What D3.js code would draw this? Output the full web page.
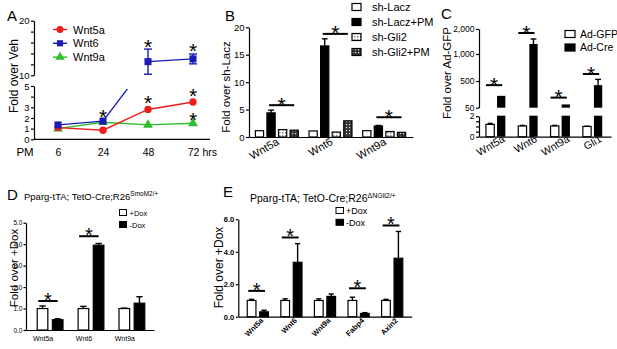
<!DOCTYPE html>
<html>
<meta charset="utf-8" />
<head>
<script src="https://d3js.org/d3.v7.min.js"></script>
<style>
  body { margin: 0; background: #fff; }
  svg text { font-family: "Liberation Sans", Arial, sans-serif; fill: #000; }
</style>
</head>
<body>
<svg id="fig" width="617" height="349"></svg>
<script>
// ---- panel A: time course after PM
const aTimes = ["6", "24", "48", "72"];
const aSeries = ["Wnt5a", "Wnt6", "Wnt9a"];
const aWnt5a = [1.1, 0.85, 2.8, 3.5];
const aWnt6 = [1.35, 1.7, 12.5, 13.0];
const aWnt6Err = [0, 0, 2.3, 0.9];
const aWnt9a = [1.0, 1.6, 1.35, 1.5];
const aStarTimes = ["24", "48", "72", "48", "72", "72"];
const aStarLevels = [2.6, 16.3, 15.5, 3.9, 4.55, 2.3];

// ---- panel B: shRNA
const bGenes = ["Wnt5a", "Wnt6", "Wnt9a"];
const bSeries = ["sh-Lacz", "sh-Lacz+PM", "sh-Gli2", "sh-Gli2+PM"];
const bLacz = [1.15, 1.1, 1.15];
const bLaczPM = [4.4, 16.6, 2.0];
const bLaczPMErr = [0.5, 1.3, 0.1];
const bGli2 = [1.35, 0.9, 1.0];
const bGli2PM = [1.25, 2.95, 0.85];
const bSigLevels = [5.8, 18.8, 3.6];

// ---- panel C: adenovirus
const cGenes = ["Wnt5a", "Wnt6", "Wnt9a", "Gli1"];
const cSeries = ["Ad-GFP", "Ad-Cre"];
const cGFP = [1.2, 1.05, 1.05, 1.0];
const cGFPErr = [0.1, 0.05, 0.05, 0.03];
const cCre = [250, 1400, 105, 430];
const cCreErr = [0, 200, 0, 100];
const cSigLevels = [430, 1840, 220, 630];

// ---- panel D: SmoM2
const dGenes = ["Wnt5a", "Wnt6", "Wnt9a"];
const dSeries = ["+Dox", "-Dox"];
const dPlus = [1.0, 1.0, 1.0];
const dPlusErr = [0.12, 0.1, 0.02];
const dMinus = [0.48, 3.95, 1.25];
const dMinusErr = [0.04, 0.08, 0.3];
const dSigGenes = ["Wnt5a", "Wnt6"];
const dSigLevels = [1.35, 4.37];

// ---- panel E: dNGli2
const eGenes = ["Wnt5a", "Wnt6", "Wnt9a", "Fabp4", "Axin2"];
const eSeries = ["+Dox", "-Dox"];
const ePlus = [1.0, 1.0, 1.0, 1.0, 1.0];
const ePlusErr = [0.07, 0.1, 0.1, 0.2, 0.07];
const eMinus = [0.3, 3.35, 1.25, 0.2, 3.6];
const eMinusErr = [0.1, 1.15, 0.15, 0.05, 1.65];
const eSigGenes = ["Wnt5a", "Wnt6", "Fabp4", "Axin2"];
const eSigLevels = [1.59, 4.88, 1.75, 5.62];

const svg = d3.select("#fig");
const defs = svg.append("defs");
const narrow = "'Liberation Sans Narrow', 'DejaVu Sans Condensed', 'Liberation Sans', sans-serif";

// fill patterns for the sh-Gli2 bars
const p1 = defs.append("pattern").attr("id", "dotLight").attr("width", 3).attr("height", 3)
  .attr("patternUnits", "userSpaceOnUse");
p1.append("rect").attr("width", 3).attr("height", 3).attr("fill", "#fff");
p1.append("rect").attr("width", 1.5).attr("height", 1.5).attr("fill", "#888");
const p2 = defs.append("pattern").attr("id", "dotDark").attr("width", 3).attr("height", 3)
  .attr("patternUnits", "userSpaceOnUse");
p2.append("rect").attr("width", 3).attr("height", 3).attr("fill", "#333");
p2.append("rect").attr("x", 1).attr("y", 1).attr("width", 1.2).attr("height", 1.2).attr("fill", "#ddd");

function styleAxis(g, fs, bold) {
  g.attr("font-family", "Liberation Sans, Arial, sans-serif");
  g.selectAll("path, line").attr("stroke", "#000").attr("stroke-width", 1.2);
  g.selectAll("text").attr("font-size", fs).attr("font-weight", bold ? "bold" : null);
}

function star(g, x, cy, fs) {
  g.append("text").attr("x", x).attr("y", cy + fs * 0.6)
    .attr("text-anchor", "middle").attr("font-size", fs).text("*");
}

function label(txt, x, y, fs, opts) {
  const t = svg.append("text").attr("x", x).attr("y", y).attr("font-size", fs).text(txt);
  if (opts && opts.anchor) t.attr("text-anchor", opts.anchor);
  if (opts && opts.rotate) t.attr("transform", `rotate(${opts.rotate},${x},${y})`);
  if (opts && opts.bold) t.attr("font-weight", "bold");
  return t;
}

function yLabel(txt, x, cy, fs) {
  label(txt, x, cy, fs, { anchor: "middle", rotate: -90 });
}

function barSeries(g, genes, x, xi, key, y, vals, errs, fill, capFrac) {
  g.selectAll(null).data(genes).join("rect")
    .attr("x", d => x(d) + xi(key))
    .attr("y", (d, i) => y(vals[i]))
    .attr("width", xi.bandwidth())
    .attr("height", (d, i) => y(0) - y(vals[i]))
    .attr("fill", fill).attr("stroke", "#000").attr("stroke-width", 1.2);
  if (errs) errBars(g, genes, x, xi, key, y, vals, errs, capFrac);
}

function errBars(g, genes, x, xi, key, y, vals, errs, capFrac) {
  const w = xi.bandwidth() * (capFrac || 0.6);
  genes.forEach((d, i) => {
    if (!errs[i]) return;
    const cx = x(d) + xi(key) + xi.bandwidth() / 2;
    g.append("line").attr("x1", cx).attr("x2", cx)
      .attr("y1", y(vals[i])).attr("y2", y(vals[i] + errs[i]))
      .attr("stroke", "#000").attr("stroke-width", 1.4);
    g.append("line").attr("x1", cx - w / 2).attr("x2", cx + w / 2)
      .attr("y1", y(vals[i] + errs[i])).attr("y2", y(vals[i] + errs[i]))
      .attr("stroke", "#000").attr("stroke-width", 1.4);
  });
}

function sigBar(g, x1, x2, yy, fs) {
  g.append("line").attr("x1", x1).attr("x2", x2).attr("y1", yy).attr("y2", yy)
    .attr("stroke", "#000").attr("stroke-width", 2);
  star(g, (x1 + x2) / 2, yy - 6, fs);
}

// ================= Panel A =================
const gA = svg.append("g");
const aX = d3.scalePoint().domain(aTimes).range([58, 193]);
const aLow = d3.scaleLinear().domain([0, 5]).range([139.3, 86]);
const aHigh = d3.scaleLinear().domain([10, 20]).range([75.3, 20.7]);
const aY = v => (v <= 5 ? aLow(v) : aHigh(v));

gA.append("g").attr("transform", "translate(34,0)")
  .call(d3.axisLeft(aLow).tickValues([0, 1, 2, 3, 4, 5]).tickSize(3).tickPadding(1.5).tickSizeOuter(0)
    .tickFormat(d => (d === 4 ? "" : d)))
  .call(g => styleAxis(g, 9.5));
gA.append("g").attr("transform", "translate(34,0)")
  .call(d3.axisLeft(aHigh).tickValues([10, 12, 14, 16, 18, 20]).tickSize(3).tickPadding(1.5).tickSizeOuter(0)
    .tickFormat(d => (d === 10 || d === 20 ? d : "")))
  .call(g => styleAxis(g, 9.5));
gA.append("g").attr("transform", `translate(0,${aLow(0)})`)
  .call(d3.axisBottom(aX).tickSize(0).tickPadding(9))
  .call(g => { styleAxis(g, 10.5); g.select(".domain").remove(); });
gA.append("line").attr("x1", 34).attr("x2", 210).attr("y1", aLow(0)).attr("y2", aLow(0))
  .attr("stroke", "#000").attr("stroke-width", 1.2);
label("PM", 25, aLow(0) + 16.5, 11.5, { anchor: "middle" });
label("hrs", aX("72") + 9.5, aLow(0) + 16.5, 10.5);
yLabel("Fold over Veh", 17.5, 76, 12);
label("A", 7, 21, 15);

const aColors = { Wnt5a: "#ee1c1c", Wnt6: "#1c1cb4", Wnt9a: "#2dbf2d" };
const aSymbols = { Wnt5a: d3.symbolCircle, Wnt6: d3.symbolSquare, Wnt9a: d3.symbolTriangle };
const aValues = { Wnt5a: aWnt5a, Wnt6: aWnt6, Wnt9a: aWnt9a };

// Wnt6 line crosses the axis break: clip to the two drawable bands
const clip = defs.append("clipPath").attr("id", "aClip");
clip.append("rect").attr("x", 34).attr("y", aLow(5) + 3).attr("width", 180).attr("height", 60);
clip.append("rect").attr("x", aX("48")).attr("y", 0).attr("width", 80).attr("height", aHigh(10));

const aLine = d3.line().x((d, i) => aX(aTimes[i])).y(d => aY(d));
["Wnt9a", "Wnt5a", "Wnt6"].forEach(s => {
  const p = gA.append("path").datum(aValues[s]).attr("d", aLine)
    .attr("fill", "none").attr("stroke", aColors[s]).attr("stroke-width", 1.4);
  if (s === "Wnt6") p.attr("clip-path", "url(#aClip)");
});
aTimes.forEach((t, i) => {
  if (!aWnt6Err[i]) return;
  const cx = aX(t);
  const lo = aY(aWnt6[i] - aWnt6Err[i]), hi = aY(aWnt6[i] + aWnt6Err[i]);
  gA.append("line").attr("x1", cx).attr("x2", cx).attr("y1", lo).attr("y2", hi)
    .attr("stroke", aColors.Wnt6).attr("stroke-width", 1.4);
  [lo, hi].forEach(yy => gA.append("line").attr("x1", cx - 4).attr("x2", cx + 4)
    .attr("y1", yy).attr("y2", yy).attr("stroke", aColors.Wnt6).attr("stroke-width", 1.4));
});
["Wnt9a", "Wnt5a", "Wnt6"].forEach(s => {
  gA.selectAll(null).data(aValues[s]).join("path")
    .attr("d", d3.symbol().type(aSymbols[s]).size(s === "Wnt6" ? 50 : 42))
    .attr("transform", (d, i) => `translate(${aX(aTimes[i])},${aY(d)})`)
    .attr("fill", aColors[s]);
});
aStarTimes.forEach((t, i) => star(gA, aX(t), aY(aStarLevels[i]), 21));

// legend A
aSeries.forEach((s, i) => {
  const ly = 29.5 + i * 13.8;
  gA.append("line").attr("x1", 53).attr("x2", 67).attr("y1", ly).attr("y2", ly)
    .attr("stroke", aColors[s]).attr("stroke-width", 1.4);
  gA.append("path").attr("d", d3.symbol().type(aSymbols[s]).size(38)())
    .attr("transform", `translate(60,${ly})`).attr("fill", aColors[s]);
  label(s, 73, ly + 4, 11);
});

// ================= Panel B =================
const gB = svg.append("g");
const bX = d3.scaleBand().domain(bGenes).range([250, 411]).paddingInner(0.2).paddingOuter(0.1);
const bXi = d3.scaleBand().domain(bSeries).range([0, bX.bandwidth()]).paddingInner(0.29);
const bY = d3.scaleLinear().domain([0, 20]).range([137, 27.3]);
gB.append("g").attr("transform", "translate(249,0)")
  .call(d3.axisLeft(bY).tickValues([0, 5, 10, 15, 20]).tickSize(3).tickPadding(1.5).tickSizeOuter(0))
  .call(g => styleAxis(g, 9.5));
gB.append("g").attr("transform", `translate(0,${bY(0)})`)
  .call(d3.axisBottom(bX.copy().range([249, 413])).tickSize(0).tickSizeOuter(0).tickFormat(""))
  .call(g => styleAxis(g, 10));
const bFills = ["#fff", "#000", "url(#dotLight)", "url(#dotDark)"];
barSeries(gB, bGenes, bX, bXi, bSeries[0], bY, bLacz, null, bFills[0]);
barSeries(gB, bGenes, bX, bXi, bSeries[1], bY, bLaczPM, bLaczPMErr, bFills[1], 0.7);
barSeries(gB, bGenes, bX, bXi, bSeries[2], bY, bGli2, null, bFills[2]);
barSeries(gB, bGenes, bX, bXi, bSeries[3], bY, bGli2PM, null, bFills[3]);
bGenes.forEach((g, i) => {
  const x1 = bX(g) + bXi(bSeries[1]) + bXi.bandwidth() / 2;
  const x2 = bX(g) + bXi(bSeries[3]) + bXi.bandwidth() / 2;
  sigBar(gB, x1 - 2, x2, bY(bSigLevels[i]), 21);
  label(g, bX(g) + bX.bandwidth() / 2 + 3, 144, 11, { anchor: "end", rotate: -30 });
});
yLabel("Fold over sh-Lacz", 230, 87, 11.5);
label("B", 225, 21, 15);
bSeries.forEach((s, i) => {
  const ly = 7 + i * 15;
  gB.append("rect").attr("x", 352).attr("y", ly - 3.5).attr("width", 9).attr("height", 7)
    .attr("fill", bFills[i]).attr("stroke", "#000").attr("stroke-width", 1.2);
  label(s, 372, ly + 4, 11);
});

// ================= Panel C =================
const gC = svg.append("g");
const cX = d3.scaleBand().domain(cGenes).range([479.5, 608.7]).paddingInner(0.4).paddingOuter(0.2);
const cXi = d3.scaleBand().domain(cSeries).range([0, cX.bandwidth()]).paddingInner(0.25);
const cLow = d3.scaleLinear().domain([0, 2]).range([136.7, 116.2]);
const cHigh = d3.scaleLinear().domain([50, 500, 1000, 2000]).range([107.7, 81, 54, 29]);
gC.append("g").attr("transform", "translate(479,0)")
  .call(d3.axisLeft(cLow).tickValues([0, 0.5, 1, 1.5, 2]).tickSize(3).tickPadding(1.5).tickSizeOuter(0)
    .tickFormat(d => (d === 0 || d === 2 ? d : "")))
  .call(g => styleAxis(g, 8.5));
gC.append("g").attr("transform", "translate(479,0)")
  .call(d3.axisLeft(cHigh).tickValues([50, 500, 1000, 2000]).tickSize(3).tickPadding(1.5).tickSizeOuter(0))
  .call(g => styleAxis(g, 8.5));
gC.append("g").attr("transform", `translate(0,${cLow(0)})`)
  .call(d3.axisBottom(cX.copy().range([479, 611])).tickSize(0).tickSizeOuter(0).tickFormat(""))
  .call(g => styleAxis(g, 10));
// white bars live in the lower segment
barSeries(gC, cGenes, cX, cXi, "Ad-GFP", cLow, cGFP, cGFPErr, "#fff", 0.6);
// black bars span both segments
cGenes.forEach((g, i) => {
  const bx = cX(g) + cXi("Ad-Cre");
  gC.append("rect").attr("x", bx).attr("y", cLow(2) - 0.5).attr("width", cXi.bandwidth())
    .attr("height", cLow(0) - cLow(2) + 0.5).attr("fill", "#000");
  gC.append("rect").attr("x", bx).attr("y", cHigh(cCre[i])).attr("width", cXi.bandwidth())
    .attr("height", cHigh(50) - cHigh(cCre[i])).attr("fill", "#000");
});
errBars(gC, cGenes, cX, cXi, "Ad-Cre", cHigh, cCre, cCreErr, 0.7);
cGenes.forEach((g, i) => {
  const x1 = cX(g) + cXi("Ad-GFP");
  const x2 = cX(g) + cXi("Ad-Cre") + cXi.bandwidth() / 2 + 1;
  sigBar(gC, x1, x2, cHigh(cSigLevels[i]), 21);
  label(g, cX(g) + cX.bandwidth() / 2 + 10, 141, 10.5, { anchor: "end", rotate: -30 });
});
yLabel("Fold over Ad-GFP", 451, 73, 11.5);
label("C", 441, 19, 15);
cSeries.forEach((s, i) => {
  const ly = 33.5 + i * 13.5;
  gC.append("rect").attr("x", 565).attr("y", ly - 3).attr("width", 10).attr("height", 7)
    .attr("fill", i ? "#000" : "#fff").attr("stroke", "#000").attr("stroke-width", 1.2);
  label(s, 580, ly + 4, 10.5);
});

// ================= Panel D =================
const gD = svg.append("g");
const dX = d3.scaleBand().domain(dGenes).range([27, 155]).paddingInner(0.37).paddingOuter(0.25);
const dXi = d3.scaleBand().domain(dSeries).range([0, dX.bandwidth()]).paddingInner(0.3);
const dY = d3.scaleLinear().domain([0, 5]).range([330, 222.7]);
gD.append("g").attr("transform", "translate(26,0)")
  .call(d3.axisLeft(dY).tickValues([0, 1, 2, 3, 4, 5]).tickSize(2.5).tickPadding(1).tickSizeOuter(0))
  .call(g => styleAxis(g, 6.5));
gD.append("g").attr("transform", `translate(0,${dY(0)})`)
  .call(d3.axisBottom(dX.copy().range([26, 154])).tickSize(0).tickSizeOuter(0).tickFormat(""))
  .call(g => styleAxis(g, 7));
barSeries(gD, dGenes, dX, dXi, "+Dox", dY, dPlus, dPlusErr, "#fff", 0.6);
barSeries(gD, dGenes, dX, dXi, "-Dox", dY, dMinus, dMinusErr, "#000", 0.6);
dSigGenes.forEach((g, i) => {
  const x1 = dX(g) + 1;
  const x2 = dX(g) + dXi("-Dox") + dXi.bandwidth() / 2;
  sigBar(gD, x1, x2, dY(dSigLevels[i]), 20);
});
dGenes.forEach(g => label(g, dX(g) + dX.bandwidth() / 2 - 7, 341, 7, { anchor: "middle" }));
yLabel("Fold over +Dox", 18, 268, 11.5);
label("D", 7, 200, 15);
const tD = label("Pparg-tTA; TetO-Cre;R26", 24, 200, 9.5).attr("font-family", narrow);
tD.append("tspan").attr("dy", -4).attr("font-size", 6.5).text("SmoM2/+");
dSeries.forEach((s, i) => {
  const ly = 212.5 + i * 12;
  gD.append("rect").attr("x", 119.5).attr("y", ly - 3).attr("width", 7).attr("height", 6)
    .attr("fill", i ? "#000" : "#fff").attr("stroke", "#000").attr("stroke-width", 1);
  label(s, 129.5, ly + 3, 7.5).attr("font-family", narrow);
});

// ================= Panel E =================
const gE = svg.append("g");
const eX = d3.scaleBand().domain(eGenes).range([238.5, 411.5]).paddingInner(0.37).paddingOuter(0.26);
const eXi = d3.scaleBand().domain(eSeries).range([0, eX.bandwidth()]).paddingInner(0.3);
const eY = d3.scaleLinear().domain([0, 6]).range([316.7, 219.3]);
gE.append("g").attr("transform", "translate(238.3,0)")
  .call(d3.axisLeft(eY).tickValues([0, 2, 4, 6]).tickSize(2.5).tickPadding(1.5).tickSizeOuter(0))
  .call(g => styleAxis(g, 7.5, true));
gE.append("g").attr("transform", `translate(0,${eY(0)})`)
  .call(d3.axisBottom(eX.copy().range([238.3, 411.7])).tickSize(0).tickSizeOuter(0).tickFormat(""))
  .call(g => styleAxis(g, 7));
barSeries(gE, eGenes, eX, eXi, "+Dox", eY, ePlus, ePlusErr, "#fff", 0.6);
barSeries(gE, eGenes, eX, eXi, "-Dox", eY, eMinus, eMinusErr, "#000", 0.6);
eSigGenes.forEach((g, i) => {
  const x1 = eX(g) + 1;
  const x2 = eX(g) + eXi("-Dox") + eXi.bandwidth() / 2 + 1;
  sigBar(gE, x1, x2, eY(eSigLevels[i]), 20);
});
eGenes.forEach(g => label(g, eX(g) + eX.bandwidth() / 2 + 6, 321, 7.5,
  { anchor: "end", rotate: -45, bold: true }));
yLabel("Fold over +Dox", 223, 267.5, 12);
label("E", 223, 197, 15);
const tE = label("Pparg-tTA; TetO-Cre;R26", 250, 202, 10.5).attr("font-family", narrow);
tE.append("tspan").attr("dy", -4.5).attr("font-size", 7).text("ΔNGli2/+");
eSeries.forEach((s, i) => {
  const ly = 210.5 + i * 11.8;
  gE.append("rect").attr("x", 336).attr("y", ly - 3).attr("width", 7.5).attr("height", 6)
    .attr("fill", i ? "#000" : "#fff").attr("stroke", "#000").attr("stroke-width", 1);
  label(s, 346, ly + 3.5, 9);
});
</script>
</body>
</html>
